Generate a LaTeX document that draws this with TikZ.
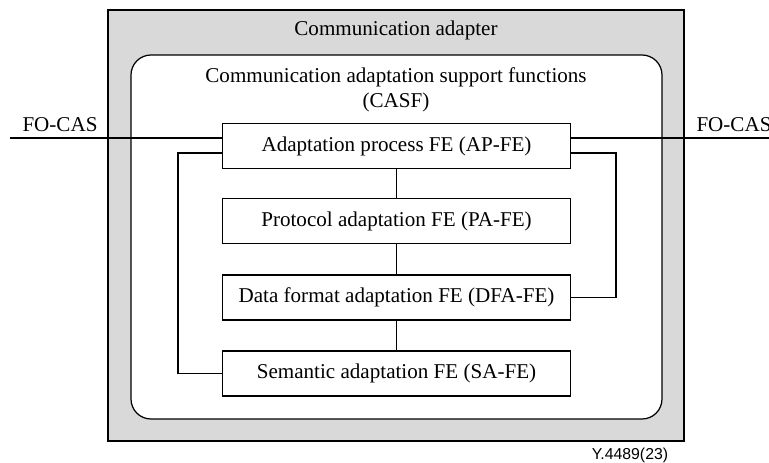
\documentclass[tikz,border=0pt]{standalone}
\usepackage{fontspec}
\setmainfont{Liberation Serif}
\newfontfamily\figsans{Liberation Sans}
\usepackage{tikz}

\begin{document}
\begin{tikzpicture}[x=0.02cm,y=-0.02cm,
    febox/.style={draw=black,fill=white,line width=0.6pt,minimum width=6.98cm,minimum height=0.9cm,inner sep=0pt,font=\fontsize{12}{14.5}\selectfont},
    lbl/.style={font=\fontsize{12}{14.5}\selectfont,inner sep=0pt},
    link/.style={draw=black,line width=0.6pt}]
               \useasboundingbox (0,0) rectangle (769,463);
               \filldraw[color=black, fill=black!15, line width=0.8pt](108,10) rectangle (684,441);
               \filldraw[color=black, fill=white, line width=0.7pt, rounded corners=0.4cm](131,55) rectangle (662,419);
               \node[lbl] (ca) at (396,30) {Communication adapter};
               \node[lbl,align=center] (casf) at (396,90) {Communication adaptation support functions\\(CASF)};
               \node[febox] (ap) at (396.5,146) {Adaptation process FE (AP-FE)};
               \node[febox] (pa) at (396.5,221) {Protocol adaptation FE (PA-FE)};
               \node[febox] (dfa) at (396.5,297.5) {Data format adaptation FE (DFA-FE)};
               \node[febox] (sa) at (396.5,373.5) {Semantic adaptation FE (SA-FE)};
               \node[lbl] (focasl) at (60,125) {FO-CAS};
               \node[lbl] (focasr) at (734,125) {FO-CAS};
               \node[inner sep=0pt,font=\figsans\fontsize{9}{11}\selectfont] (fig) at (630,455) {Y.4489(23)};
               \coordinate (fl) at (10,138);
               \coordinate (fr) at (769,138);
               \coordinate (ll) at (178,153);
               \coordinate (rl) at (616,153);
               \draw[link] (fl) -- (fl -| ap.west);
               \draw[link] (fr) -- (fr -| ap.east);
               \draw[link] (ap.south) -- (pa.north);
               \draw[link] (pa.south) -- (dfa.north);
               \draw[link] (dfa.south) -- (sa.north);
               \draw[link] (ll -| ap.west) -- (ll) |- (sa.west);
               \draw[link] (rl -| ap.east) -- (rl) |- (dfa.east);
           \end{tikzpicture}
\end{document}
